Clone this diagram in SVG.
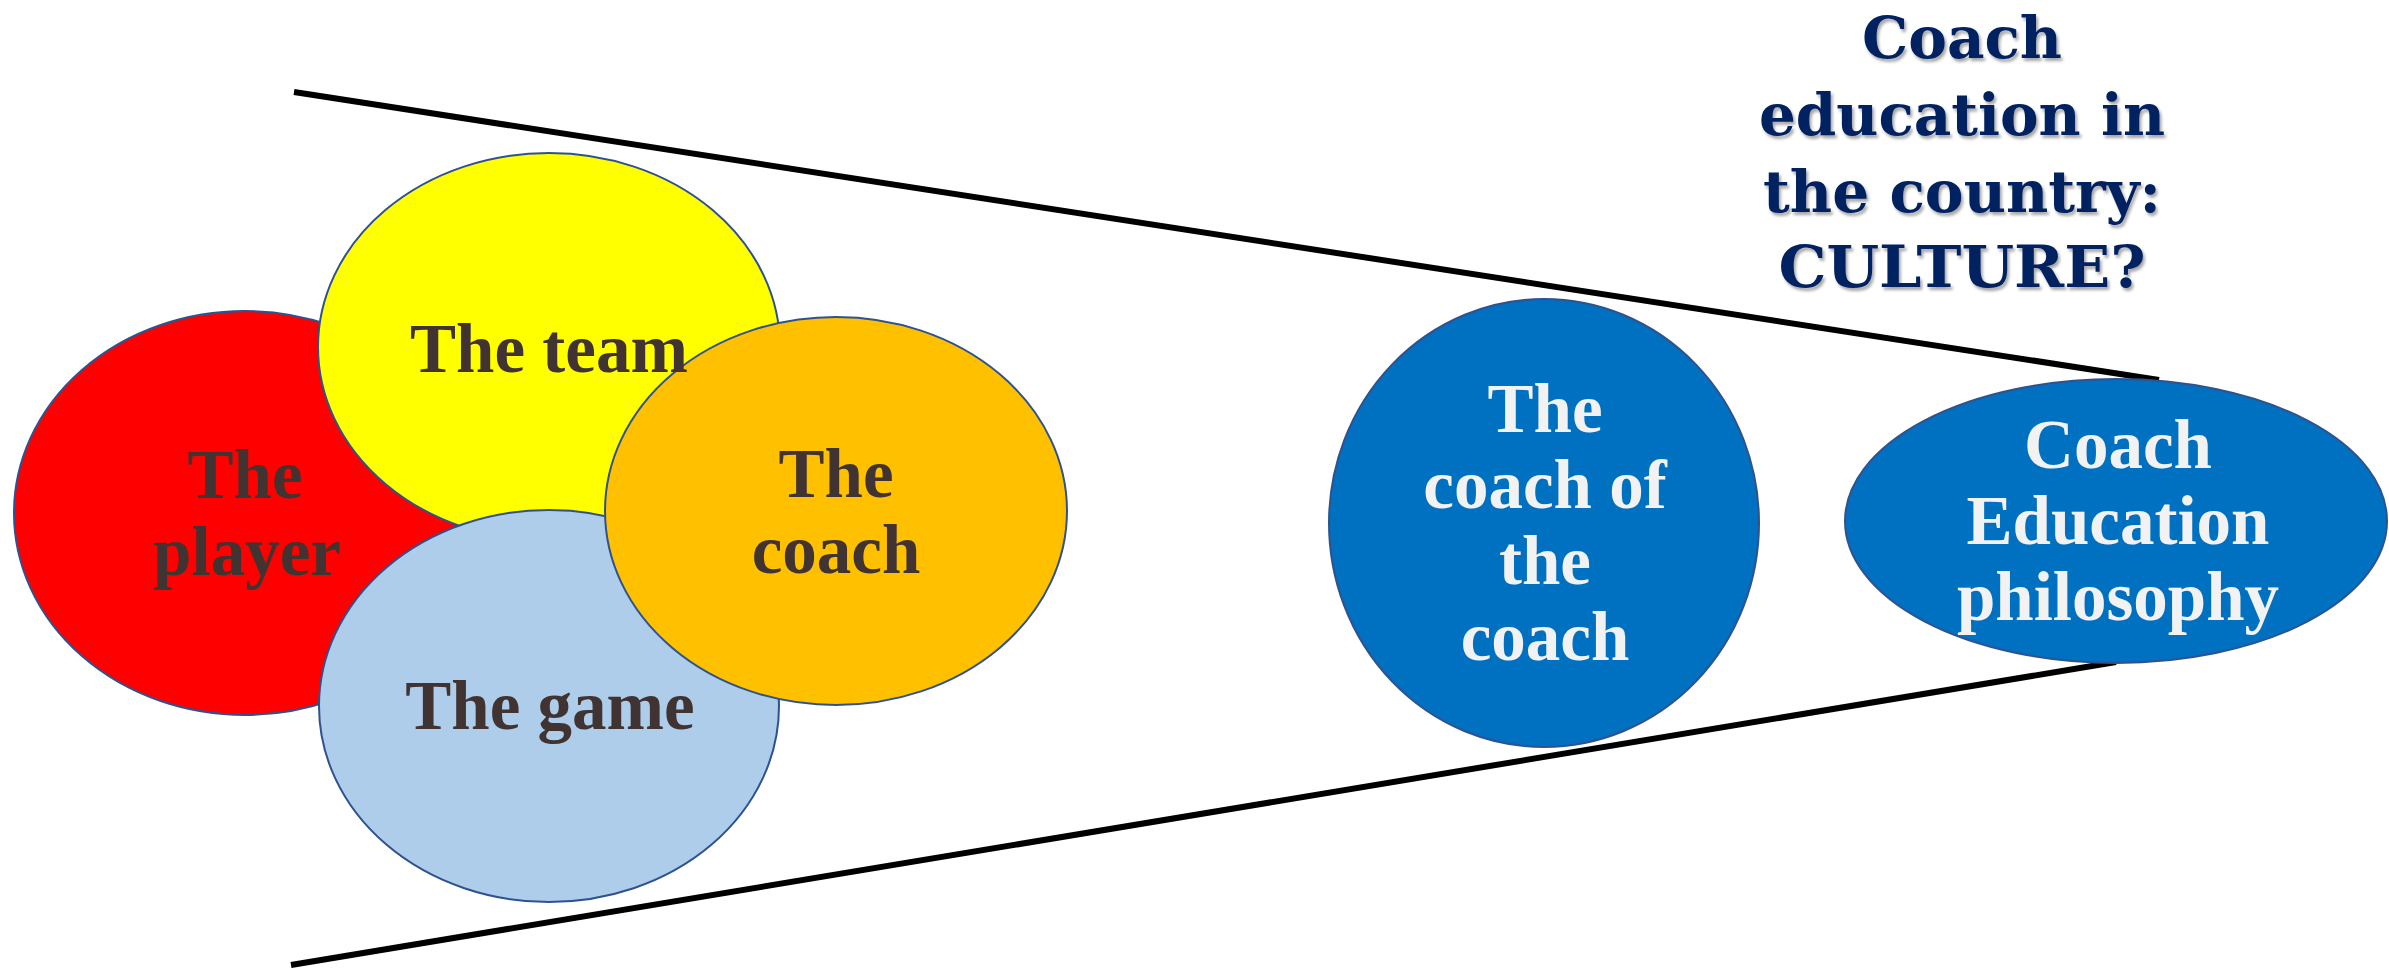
<svg xmlns="http://www.w3.org/2000/svg" width="2389" height="969" viewBox="0 0 2389 969">
<defs>
<style>
.ell{stroke:#2F528F;stroke-width:2}
.lbl{font-family:"Liberation Serif","Times New Roman",serif;font-weight:bold;font-size:69px;text-anchor:middle;fill:#403331}
.wlbl{font-family:"Liberation Serif","Times New Roman",serif;font-weight:bold;font-size:69px;text-anchor:middle;fill:#F2F2F2}
.title{font-family:"DejaVu Serif","Liberation Serif",serif;font-weight:bold;font-size:58px;text-anchor:middle;fill:#002060}
.ln{stroke:#000;stroke-width:6;fill:none}
</style>
<filter id="sh" x="-10%" y="-10%" width="130%" height="130%">
<feDropShadow dx="2" dy="3" stdDeviation="1.5" flood-color="#000" flood-opacity="0.35"/>
</filter>
</defs>
<rect width="2389" height="969" fill="#fff"/>
<g id="connectors">
<line class="ln" x1="294" y1="92" x2="2159" y2="380"/>
<line class="ln" x1="291" y1="965" x2="2116" y2="662"/>
</g>
<g id="player"><ellipse class="ell" cx="245" cy="513" rx="231" ry="202" fill="#FF0000"/></g>
<g id="team"><ellipse class="ell" cx="549" cy="347" rx="231" ry="194" fill="#FFFF00"/></g>
<g id="game"><ellipse class="ell" cx="549" cy="706" rx="230" ry="196" fill="#ADCDEA"/></g>
<g id="coach"><ellipse class="ell" cx="836" cy="511" rx="231" ry="194" fill="#FFC000"/></g>
<g id="labels">
<text class="lbl" x="245" y="498">The</text>
<text class="lbl" x="247" y="575">player</text>
<text class="lbl" x="549" y="372">The team</text>
<text class="lbl" x="836" y="497">The</text>
<text class="lbl" x="836" y="573">coach</text>
<text class="lbl" x="550" y="729">The game</text>
</g>
<g id="coach-of-coach">
<ellipse class="ell" cx="1544" cy="523" rx="215" ry="224" fill="#0070C0"/>
<text class="wlbl" x="1545" y="432">The</text>
<text class="wlbl" x="1545" y="508">coach of</text>
<text class="wlbl" x="1545" y="584">the</text>
<text class="wlbl" x="1545" y="660">coach</text>
</g>
<g id="philosophy">
<ellipse class="ell" cx="2116" cy="521" rx="271" ry="142" fill="#0070C0"/>
<text class="wlbl" x="2118" y="468">Coach</text>
<text class="wlbl" x="2118" y="544">Education</text>
<text class="wlbl" x="2118" y="620">philosophy</text>
</g>
<g id="culture" filter="url(#sh)">
<text class="title" x="1962" y="58" textLength="200" lengthAdjust="spacingAndGlyphs">Coach</text>
<text class="title" x="1962" y="135" textLength="406" lengthAdjust="spacingAndGlyphs">education in</text>
<text class="title" x="1962" y="212" textLength="398" lengthAdjust="spacingAndGlyphs">the country:</text>
<text class="title" x="1962" y="287" textLength="367" lengthAdjust="spacingAndGlyphs">CULTURE?</text>
</g>
</svg>
